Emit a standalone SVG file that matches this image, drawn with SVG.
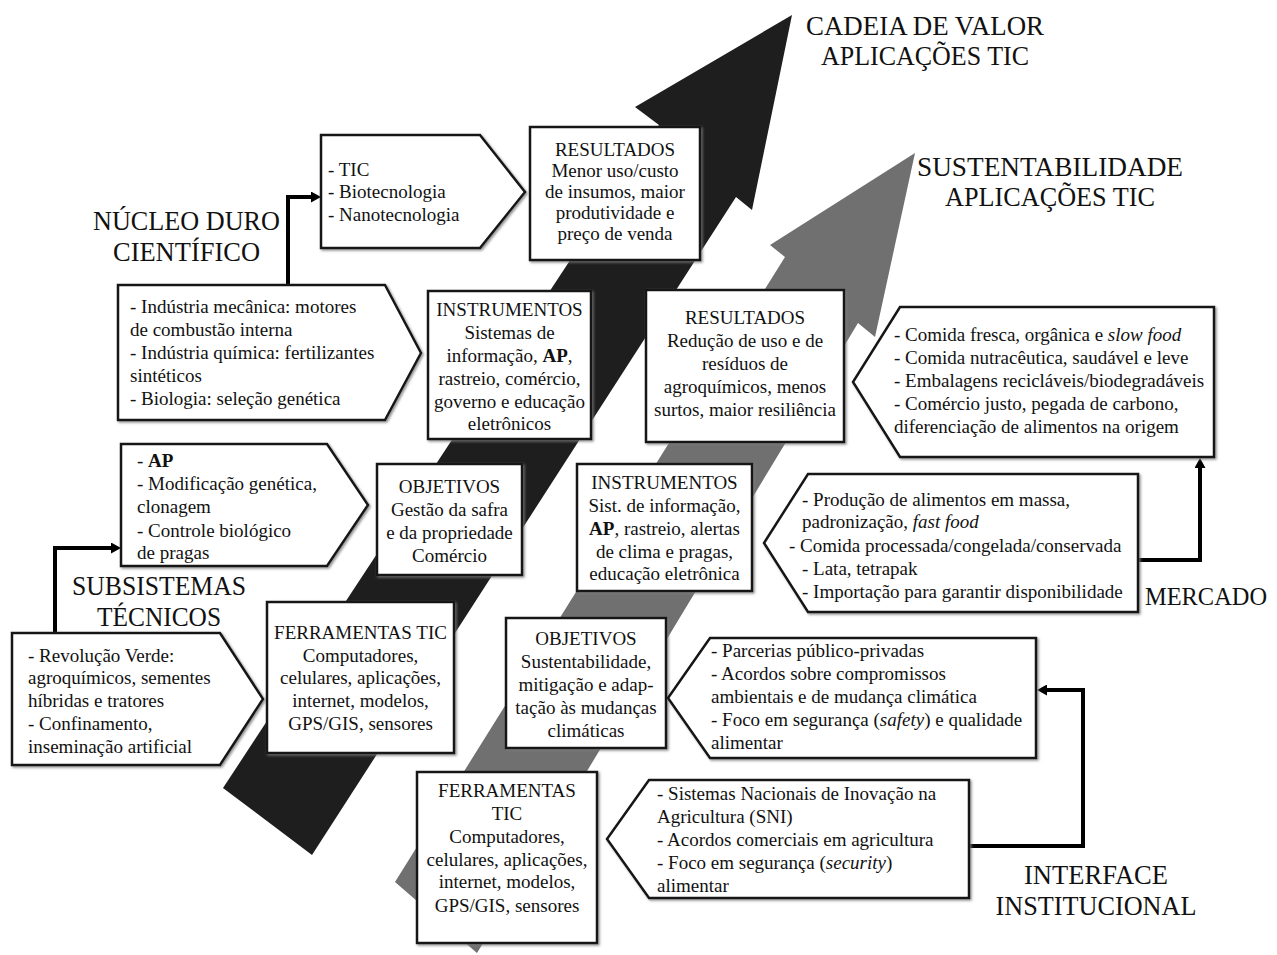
<svg xmlns="http://www.w3.org/2000/svg" width="1277" height="955" viewBox="0 0 1277 955">
<defs>
<style>
.box{fill:#fff;stroke:#151515;stroke-width:2.5;stroke-linejoin:miter;filter:url(#sh)}
.t{font-family:'Liberation Serif','Times New Roman',serif;font-size:19px;fill:#111}
.c{text-anchor:middle}
.b{font-weight:bold}
.i{font-style:italic}
.lbl{font-family:'Liberation Serif','Times New Roman',serif;font-size:27px;fill:#111;text-anchor:middle}
.conn{fill:none;stroke:#000;stroke-width:4;stroke-linejoin:miter}
.band-dark{fill:#1e1e1e}
.band-grey{fill:#707070}
</style>
<filter id="sh" x="-5%" y="-5%" width="110%" height="110%">
<feDropShadow dx="1.5" dy="1.5" stdDeviation="1" flood-color="#777" flood-opacity="0.8"/>
</filter>
<marker id="ah" viewBox="0 0 10 10" refX="2" refY="5" markerWidth="10" markerHeight="11" markerUnits="userSpaceOnUse" orient="auto" preserveAspectRatio="none">
<path d="M0,0 L10,5 L0,10 z" fill="#000"/>
</marker>
</defs>

<g id="bands">
<polygon class="band-dark" points="223,788 312,855 736,197 752,210 792,15 635,107 659,125"/>
<polygon class="band-grey" points="395,882 477,953 858,323 875,337 915,153 770,245 785,257"/>
</g>

<g id="labels">
<g id="lbl-cadeia">
<text class="lbl" x="925" y="35" textLength="238" lengthAdjust="spacingAndGlyphs">CADEIA DE VALOR</text>
<text class="lbl" x="925" y="65" textLength="208" lengthAdjust="spacingAndGlyphs">APLICAÇÕES TIC</text>
</g>
<g id="lbl-sust">
<text class="lbl" x="1050" y="176" textLength="266" lengthAdjust="spacingAndGlyphs">SUSTENTABILIDADE</text>
<text class="lbl" x="1050" y="206" textLength="210" lengthAdjust="spacingAndGlyphs">APLICAÇÕES TIC</text>
</g>
<g id="lbl-nucleo">
<text class="lbl" x="186.5" y="230" textLength="187" lengthAdjust="spacingAndGlyphs">NÚCLEO DURO</text>
<text class="lbl" x="186.5" y="261" textLength="147" lengthAdjust="spacingAndGlyphs">CIENTÍFICO</text>
</g>
<g id="lbl-subsistemas">
<text class="lbl" x="159" y="595" textLength="174" lengthAdjust="spacingAndGlyphs">SUBSISTEMAS</text>
<text class="lbl" x="159" y="626" textLength="124" lengthAdjust="spacingAndGlyphs">TÉCNICOS</text>
</g>
<g id="lbl-mercado">
<text class="lbl" x="1206" y="605" style="font-size:26px" textLength="122" lengthAdjust="spacingAndGlyphs">MERCADO</text>
</g>
<g id="lbl-interface">
<text class="lbl" x="1096" y="884" textLength="144" lengthAdjust="spacingAndGlyphs">INTERFACE</text>
<text class="lbl" x="1096" y="915" textLength="201" lengthAdjust="spacingAndGlyphs">INSTITUCIONAL</text>
</g>
</g>

<g id="connectors">
<path class="conn" d="M288,285 V197 H313" marker-end="url(#ah)"/>
<path class="conn" d="M55,633 V548 H113" marker-end="url(#ah)"/>
<path class="conn" d="M1137,560 H1200 V466" marker-end="url(#ah)"/>
<path class="conn" d="M969,846 H1083 V690 H1045" marker-end="url(#ah)"/>
</g>

<g id="n-tic">
<polygon class="box" points="321,135 480,135 525,192 480,248 321,248"/>
<text class="t" x="328" y="176">- TIC</text>
<text class="t" x="328" y="198">- Biotecnologia</text>
<text class="t" x="328" y="221">- Nanotecnologia</text>
</g>

<g id="n-res1">
<rect class="box" x="530" y="127" width="170" height="133"/>
<text class="t c" x="615" y="156">RESULTADOS</text>
<text class="t c" x="615" y="177">Menor uso/custo</text>
<text class="t c" x="615" y="198">de insumos, maior</text>
<text class="t c" x="615" y="219">produtividade e</text>
<text class="t c" x="615" y="240">preço de venda</text>
</g>

<g id="n-ind">
<polygon class="box" points="118,285 385,285 421,353 385,420 118,420"/>
<text class="t" x="130" y="313">- Indústria mecânica: motores</text>
<text class="t" x="130" y="336">de combustão interna</text>
<text class="t" x="130" y="359">- Indústria química: fertilizantes</text>
<text class="t" x="130" y="382">sintéticos</text>
<text class="t" x="130" y="405">- Biologia: seleção genética</text>
</g>

<g id="n-ins1">
<rect class="box" x="428" y="291" width="163" height="148"/>
<text class="t c" x="509.5" y="316">INSTRUMENTOS</text>
<text class="t c" x="509.5" y="339">Sistemas de</text>
<text class="t c" x="509.5" y="362">informação, <tspan class="b">AP</tspan>,</text>
<text class="t c" x="509.5" y="385">rastreio, comércio,</text>
<text class="t c" x="509.5" y="408">governo e educação</text>
<text class="t c" x="509.5" y="430">eletrônicos</text>
</g>

<g id="n-ap">
<polygon class="box" points="121,444 327,444 368,505 327,566 121,566"/>
<text class="t" x="137" y="467">- <tspan class="b">AP</tspan></text>
<text class="t" x="137" y="490">- Modificação genética,</text>
<text class="t" x="137" y="513">clonagem</text>
<text class="t" x="137" y="537">- Controle biológico</text>
<text class="t" x="137" y="559">de pragas</text>
</g>

<g id="n-obj1">
<rect class="box" x="377" y="464" width="145" height="111"/>
<text class="t c" x="449.5" y="493">OBJETIVOS</text>
<text class="t c" x="449.5" y="516">Gestão da safra</text>
<text class="t c" x="449.5" y="539">e da propriedade</text>
<text class="t c" x="449.5" y="562">Comércio</text>
</g>

<g id="n-rev">
<polygon class="box" points="12,633 220,633 263,699 220,765 12,765"/>
<text class="t" x="28" y="662">- Revolução Verde:</text>
<text class="t" x="28" y="684">agroquímicos, sementes</text>
<text class="t" x="28" y="707">híbridas e tratores</text>
<text class="t" x="28" y="730">- Confinamento,</text>
<text class="t" x="28" y="753">inseminação artificial</text>
</g>

<g id="n-fer1">
<rect class="box" x="267" y="602" width="187" height="151"/>
<text class="t c" x="360.5" y="639">FERRAMENTAS TIC</text>
<text class="t c" x="360.5" y="662">Computadores,</text>
<text class="t c" x="360.5" y="684">celulares, aplicações,</text>
<text class="t c" x="360.5" y="707">internet, modelos,</text>
<text class="t c" x="360.5" y="730">GPS/GIS, sensores</text>
</g>

<g id="n-res2">
<rect class="box" x="646" y="290" width="198" height="152"/>
<text class="t c" x="745" y="324">RESULTADOS</text>
<text class="t c" x="745" y="347">Redução de uso e de</text>
<text class="t c" x="745" y="370">resíduos de</text>
<text class="t c" x="745" y="393">agroquímicos, menos</text>
<text class="t c" x="745" y="416">surtos, maior resiliência</text>
</g>

<g id="n-com">
<polygon class="box" points="900,307 1214,307 1214,457 900,457 853,382"/>
<text class="t" x="894" y="341">- Comida fresca, orgânica e <tspan class="i">slow food</tspan></text>
<text class="t" x="894" y="364">- Comida nutracêutica, saudável e leve</text>
<text class="t" x="894" y="387">- Embalagens recicláveis/biodegradáveis</text>
<text class="t" x="894" y="410">- Comércio justo, pegada de carbono,</text>
<text class="t" x="894" y="433">diferenciação de alimentos na origem</text>
</g>

<g id="n-ins2">
<rect class="box" x="577" y="464" width="175" height="127"/>
<text class="t c" x="664.5" y="489">INSTRUMENTOS</text>
<text class="t c" x="664.5" y="512">Sist. de informação,</text>
<text class="t c" x="664.5" y="535"><tspan class="b">AP</tspan>, rastreio, alertas</text>
<text class="t c" x="664.5" y="558">de clima e pragas,</text>
<text class="t c" x="664.5" y="580">educação eletrônica</text>
</g>

<g id="n-pro">
<polygon class="box" points="808,474 1138,474 1138,612 808,612 764,543"/>
<text class="t" x="802" y="506">- Produção de alimentos em massa,</text>
<text class="t" x="802" y="528">padronização, <tspan class="i">fast food</tspan></text>
<text class="t" x="789" y="552">- Comida processada/congelada/conservada</text>
<text class="t" x="802" y="575">- Lata, tetrapak</text>
<text class="t" x="802" y="598">- Importação para garantir disponibilidade</text>
</g>

<g id="n-obj2">
<rect class="box" x="506" y="618" width="160" height="130"/>
<text class="t c" x="586" y="645">OBJETIVOS</text>
<text class="t c" x="586" y="668">Sustentabilidade,</text>
<text class="t c" x="586" y="691">mitigação e adap-</text>
<text class="t c" x="586" y="714">tação às mudanças</text>
<text class="t c" x="586" y="737">climáticas</text>
</g>

<g id="n-par">
<polygon class="box" points="710,638 1036,638 1036,758 710,758 668,698"/>
<text class="t" x="711" y="657">- Parcerias público-privadas</text>
<text class="t" x="711" y="680">- Acordos sobre compromissos</text>
<text class="t" x="711" y="703">ambientais e de mudança climática</text>
<text class="t" x="711" y="726">- Foco em segurança (<tspan class="i">safety</tspan>) e qualidade</text>
<text class="t" x="711" y="749">alimentar</text>
</g>

<g id="n-fer2">
<rect class="box" x="417" y="772" width="180" height="171"/>
<text class="t c" x="507" y="797">FERRAMENTAS</text>
<text class="t c" x="507" y="820">TIC</text>
<text class="t c" x="507" y="843">Computadores,</text>
<text class="t c" x="507" y="866">celulares, aplicações,</text>
<text class="t c" x="507" y="888">internet, modelos,</text>
<text class="t c" x="507" y="912">GPS/GIS, sensores</text>
</g>

<g id="n-sis">
<polygon class="box" points="649,780 969,780 969,898 649,898 607,839"/>
<text class="t" x="657" y="800">- Sistemas Nacionais de Inovação na</text>
<text class="t" x="657" y="823">Agricultura (SNI)</text>
<text class="t" x="657" y="846">- Acordos comerciais em agricultura</text>
<text class="t" x="657" y="869">- Foco em segurança (<tspan class="i">security</tspan>)</text>
<text class="t" x="657" y="892">alimentar</text>
</g>
</svg>
